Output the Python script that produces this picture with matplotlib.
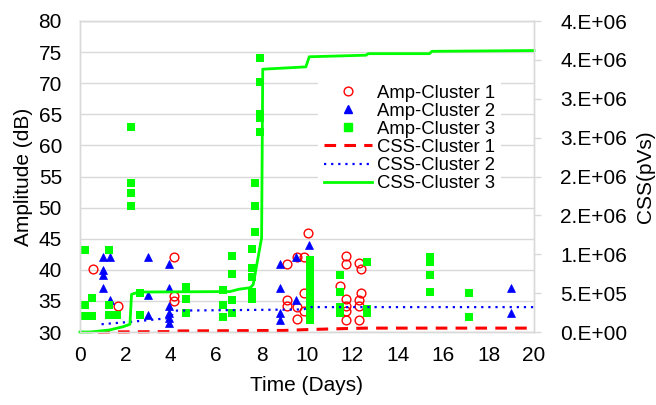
import numpy as np
from matplotlib import pyplot as plt
from matplotlib.lines import Line2D

plt.rcParams['font.family'] = ['Liberation Sans', 'DejaVu Sans']

# amplitude hits (day, dB) per cluster
c1_day = [0.59, 1.69, 4.15, 4.15, 4.15,
          9.13, 9.1, 9.1, 9.55, 9.85, 9.55, 9.55, 9.85, 9.85, 10.06,
          11.7, 11.7, 11.45, 11.7, 11.7, 11.7, 11.7,
          12.3, 12.4, 12.4, 12.3, 12.3, 12.3]
c1_amp = [40.2, 34.2, 42.1, 35.8, 35.0,
          41.0, 35.1, 34.2, 42.1, 42.1, 34.0, 32.1, 36.2, 33.3, 45.9,
          42.2, 41.0, 37.4, 35.3, 34.2, 33.3, 32.0,
          41.1, 40.1, 36.2, 35.1, 34.2, 32.0]

c2_day = [1.0, 1.32, 1.0, 1.0, 1.0, 1.32,
          2.98, 2.98, 2.98,
          3.94, 3.94, 3.94, 3.94, 3.94, 3.94,
          8.81, 8.81, 8.81, 8.81, 9.52, 9.52, 10.1,
          18.97, 18.97]
c2_amp = [42.1, 42.1, 40.0, 39.2, 37.0, 35.1,
          42.0, 35.9, 32.8,
          41.0, 37.0, 34.1, 33.0, 32.2, 31.4,
          41.0, 37.0, 33.0, 32.0, 42.1, 35.1, 44.0,
          37.0, 33.0]

c3_day = [0.22, 0.22, 0.22, 0.51, 0.51,
          1.29, 1.29, 1.29, 1.62,
          2.23, 2.23, 2.23, 2.23, 2.64, 2.64,
          4.65, 4.65, 4.65,
          6.28, 6.28, 6.28,
          6.68, 6.68, 6.68, 6.68,
          7.56, 7.56, 7.56, 7.56, 7.56,
          7.7, 7.7, 7.7,
          7.95, 7.95, 7.95, 7.95, 7.95,
          10.13, 10.13, 10.13, 10.13, 10.13, 10.13, 10.13, 10.13, 10.13,
          11.45, 11.45, 11.45, 11.45,
          12.63, 12.63, 12.63,
          15.4, 15.4, 15.4, 15.4,
          17.15, 17.15]
c3_amp = [43.2, 34.3, 32.5, 35.4, 32.5,
          43.2, 34.3, 32.7, 32.7,
          63.0, 54.0, 52.3, 50.3, 36.2, 32.7,
          37.2, 35.3, 33.0,
          36.8, 34.3, 32.4,
          42.2, 39.3, 35.1, 33.1,
          43.3, 40.3, 38.8, 36.5, 35.3,
          54.0, 50.3, 46.1,
          74.0, 70.2, 65.1, 64.4, 62.2,
          41.5, 40.3, 39.1, 37.9, 36.7, 35.5, 34.3, 33.1, 32.0,
          39.2, 36.5, 34.0, 33.0,
          41.3, 33.7, 33.0,
          42.0, 41.3, 39.2, 36.4,
          36.3, 32.4]

# cumulative signal strength (day, pVs)
css1_day = [0.8, 4.0, 4.2, 9.0, 10.1, 11.8, 12.6, 20.0]
css1_val = [0, 5e3, 1.3e4, 2.0e4, 3.2e4, 4.5e4, 5.0e4, 5.0e4]

css2_day = [0.95, 2.2, 3.1, 3.95, 4.2, 9.85, 10.1, 20.0]
css2_val = [1.0e5, 1.3e5, 1.55e5, 1.8e5, 2.75e5, 2.9e5, 3.2e5, 3.2e5]

css3_day = [0.0, 0.45, 1.3, 1.9, 2.2, 2.27, 2.6, 6.6, 7.0, 7.5, 7.63, 8.0, 8.05,
            9.95, 10.1, 12.6, 12.7, 15.4, 15.5, 20.0]
css3_val = [0, 0, 2.6e4, 6.8e4, 1.0e5, 4.85e5, 5.14e5, 5.2e5, 5.5e5, 5.7e5, 6.1e5,
            1.21e6, 3.38e6, 3.41e6, 3.54e6, 3.56e6, 3.58e6, 3.58e6, 3.61e6, 3.62e6]

xticks = np.arange(0, 21, 2)
yticks = np.arange(30, 81, 5)
css_ticks = np.arange(0, 4.0e6 + 1, 5e5)
css_ticklabels = ['0.E+00', '5.E+05', '1.E+06', '2.E+06', '2.E+06',
                  '3.E+06', '3.E+06', '4.E+06', '4.E+06']

gridc = '#d9d9d9'
fs = 15

f = plt.figure(figsize=(6.56, 4.05), dpi=100)
ax = f.add_axes([80/656, 1 - 332/405, 454/656, 311/405])
ax2 = ax.twinx()

ax.plot(c1_day, c1_amp, 'o', ls='none', mfc='none', mec='#ff0000', mew=1.0, ms=6.3, clip_on=False)
ax.plot(c2_day, c2_amp, '^', ls='none', color='#0000ff', ms=6.0, mew=0.5, clip_on=False)
ax.plot(c3_day, c3_amp, 's', ls='none', color='#00ff00', ms=5.8, mew=0, clip_on=False)

ax2.plot(css1_day, css1_val, color='#ff0000', lw=2.2, dashes=(3.8, 2.7), clip_on=False)
ax2.plot(css2_day, css2_val, color='#0000ff', lw=1.6, dashes=(1, 2.2), clip_on=False)
ax2.plot(css3_day, css3_val, color='#00ff00', lw=2.0, clip_on=False)

ax.set_xlim(0, 20)
ax.set_ylim(30, 80)
ax2.set_ylim(0, 4.0e6)
ax.set_xticks(xticks)
ax.set_yticks(yticks)
ax2.set_yticks(css_ticks)
ax2.set_yticklabels(css_ticklabels)

ax.yaxis.grid(True, color=gridc, lw=1.0)
ax.set_axisbelow(True)
for a in (ax, ax2):
  for s in a.spines.values():
    s.set_color(gridc)
    s.set_linewidth(1.0)

ax.tick_params(axis='x', length=0, pad=10, labelsize=fs)
ax.tick_params(axis='y', length=0, pad=13, labelsize=fs)
ax2.tick_params(axis='y', length=5, width=1.0, color=gridc, pad=14, labelsize=fs)

ax.set_xlabel('Time (Days)', fontsize=fs, labelpad=8)
ax.set_ylabel('Amplitude (dB)', fontsize=fs, labelpad=4)
ax2.set_ylabel('CSS(pVs)', fontsize=fs, labelpad=6)

handles = [
  Line2D([], [], marker='o', ls='none', mfc='none', mec='#ff0000', mew=1.0, ms=6.3),
  Line2D([], [], marker='^', ls='none', color='#0000ff', ms=6.0),
  Line2D([], [], marker='s', ls='none', color='#00ff00', ms=5.8),
  Line2D([], [], color='#ff0000', lw=2.2, dashes=(3.8, 2.7)),
  Line2D([], [], color='#0000ff', lw=1.6, dashes=(1, 2.2)),
  Line2D([], [], color='#00ff00', lw=2.0),
]
labels = ['Amp-Cluster 1', 'Amp-Cluster 2', 'Amp-Cluster 3',
          'CSS-Cluster 1', 'CSS-Cluster 2', 'CSS-Cluster 3']
leg = ax2.legend(handles, labels, loc='upper left',
                 bbox_to_anchor=(318/656, 1 - 79/405), bbox_transform=f.transFigure,
                 frameon=True, fancybox=False, edgecolor='none', facecolor='white',
                 framealpha=1, fontsize=13.3, handlelength=2.6, handletextpad=0.3,
                 labelspacing=0.06, borderpad=0.3, borderaxespad=0, numpoints=1)

plt.savefig('out.png', dpi=100)
